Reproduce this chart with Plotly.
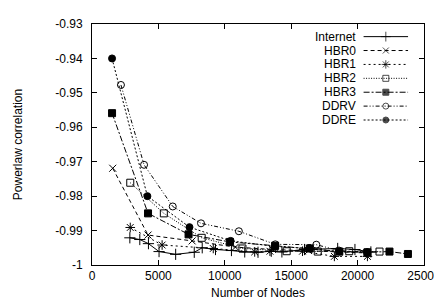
import plotly.graph_objects as go

# Data
internet_x = [2850, 3600, 4250, 5050, 6300, 7700, 8300, 9300, 10500, 11500, 12500, 13500, 14300, 16000, 18500, 19800, 21000]
internet_y = [-0.9921, -0.9926, -0.9938, -0.9961, -0.9969, -0.9963, -0.9950, -0.9955, -0.9958, -0.9962, -0.9963, -0.9960, -0.9962, -0.9955, -0.9952, -0.9955, -0.9962]

hbr0_x = [1560, 4220, 7540, 10800, 13600, 16300, 18600, 20700]
hbr0_y = [-0.9719, -0.9913, -0.9930, -0.9948, -0.9955, -0.9958, -0.9962, -0.9965]

hbr1_x = [2880, 5280, 9130, 12250, 13400, 15850, 18250, 20740]
hbr1_y = [-0.9891, -0.9942, -0.9952, -0.9962, -0.9960, -0.9960, -0.9975, -0.9975]

hbr2_x = [2880, 5410, 8260, 11330, 14660, 17000, 19370, 21650]
hbr2_y = [-0.9761, -0.9850, -0.9921, -0.9952, -0.9960, -0.9961, -0.9960, -0.9961]

hbr3_x = [1510, 4220, 7270, 10380, 13790, 16390, 18620, 20740, 22400, 23790]
hbr3_y = [-0.9559, -0.9850, -0.9911, -0.9933, -0.9944, -0.9952, -0.9961, -0.9963, -0.9961, -0.9968]

ddrv_x = [2180, 3920, 6080, 8210, 11060, 13800, 16890, 18600, 20700]
ddrv_y = [-0.9477, -0.9709, -0.9830, -0.9879, -0.9902, -0.9940, -0.9941, -0.9958, -0.9963]

ddre_x = [1510, 4170, 7340, 10440, 13790, 16390, 18620, 20740]
ddre_y = [-0.9400, -0.9800, -0.9890, -0.9930, -0.9946, -0.9952, -0.9961, -0.9963]

x_ticks = [0, 5000, 10000, 15000, 20000, 25000]
y_ticks = [-1.0, -0.99, -0.98, -0.97, -0.96, -0.95, -0.94, -0.93]
y_tick_labels = ["-1", "-0.99", "-0.98", "-0.97", "-0.96", "-0.95", "-0.94", "-0.93"]

series = [
    ("Internet", internet_x, internet_y, "solid", "cross-thin-open", 8),
    ("HBR0", hbr0_x, hbr0_y, "4px,3px", "x-thin-open", 7),
    ("HBR1", hbr1_x, hbr1_y, "2px,3px", "asterisk-open", 8),
    ("HBR2", hbr2_x, hbr2_y, "1px,1.5px", "square-open", 7),
    ("HBR3", hbr3_x, hbr3_y, "6px,2px,2px,2px", "square", 7),
    ("DDRV", ddrv_x, ddrv_y, "4px,2px,1px,2px,1px,2px", "circle-open", 7),
    ("DDRE", ddre_x, ddre_y, "2px,2px", "circle", 7),
]

# Legend layout (gnuplot style: label right-aligned, then a line sample)
LEG_TOP = 1 - 13 / 248      # first row, as a fraction of plot height
LEG_STEP = 14.3 / 248       # row spacing
LEG_TEXT_X = 0.80
LEG_S0, LEG_S1 = 0.818, 0.952

fig = go.Figure()
for i, (name, xs, ys, dash, sym, size) in enumerate(series):
    line = dict(color="black", width=1, dash=dash)
    marker = dict(symbol=sym, size=size, color="black", line=dict(color="black", width=1))
    fig.add_trace(go.Scatter(x=xs, y=ys, name=name, mode="lines+markers",
                             line=line, marker=marker, showlegend=False))
    ly = LEG_TOP - i * LEG_STEP
    fig.add_trace(go.Scatter(
        x=[LEG_S0, (LEG_S0 + LEG_S1) / 2, LEG_S1], y=[ly, ly, ly],
        xaxis="x2", yaxis="y2", mode="lines+markers", showlegend=False,
        hoverinfo="skip", line=line,
        marker=dict(symbol=sym, size=[0, size - 1, 0], color="black",
                    line=dict(color="black", width=1)),
    ))
    fig.add_annotation(x=LEG_TEXT_X, y=ly, xref="x2", yref="y2", text=name,
                       showarrow=False, xanchor="right", yanchor="middle",
                       font=dict(family="Liberation Sans", size=12, color="black"))

axis_common = dict(
    showgrid=False, zeroline=False, showline=True, mirror="allticks",
    linecolor="black", linewidth=1, ticks="inside", ticklen=5,
    tickcolor="black", tickfont=dict(family="Liberation Sans", size=12, color="black"),
)

fig.update_layout(
    width=442, height=307,
    margin=dict(l=84, r=22, t=9, b=50),
    paper_bgcolor="white", plot_bgcolor="white",
    font=dict(family="Liberation Sans", size=12, color="black"),
    showlegend=False,
    xaxis=dict(range=[0, 25000], tickvals=x_ticks, ticktext=[str(v) for v in x_ticks],
               title=dict(text="Number of Nodes", font=dict(size=12), standoff=6),
               **axis_common),
    yaxis=dict(range=[-1.0, -0.93], tickvals=y_ticks, ticktext=y_tick_labels,
               ticklabelstandoff=6,
               title=dict(text="Powerlaw correlation", font=dict(size=12), standoff=30),
               **axis_common),
    xaxis2=dict(overlaying="x", range=[0, 1], visible=False),
    yaxis2=dict(overlaying="y", range=[0, 1], visible=False),
)

fig.write_html("out.html")
